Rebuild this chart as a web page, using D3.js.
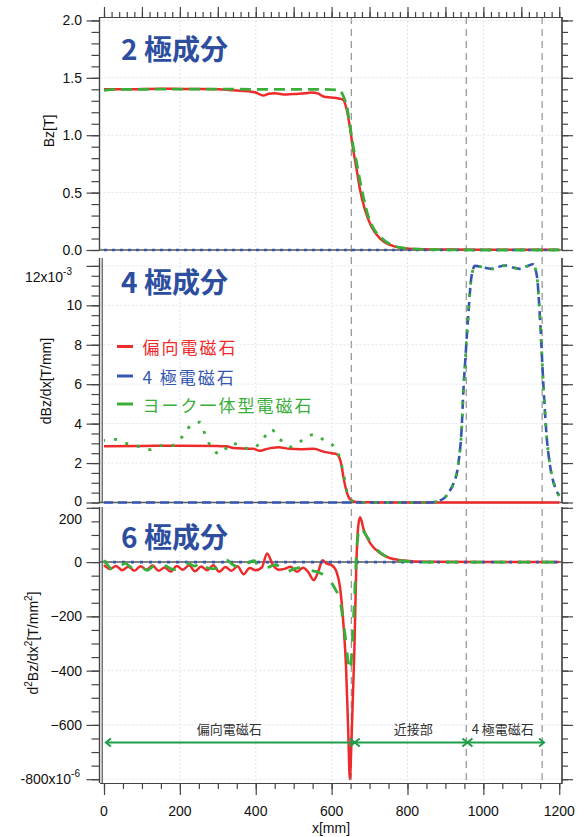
<!DOCTYPE html>
<html><head><meta charset="utf-8">
<script src="https://cdn.jsdelivr.net/npm/d3@7"></script>
<style>body{margin:0;background:#fff}</style>
</head><body><svg id="c" width="585" height="837"></svg>
<script>
// ---------------- DATA ----------------
const xTickLabels = [0,200,400,600,800,1000,1200];
const boundaryX = [652, 955, 1155];
const seriesNames = ["偏向電磁石", "4 極電磁石", "ヨーク一体型電磁石"];
const panelTitles = ["2 極成分", "4 極成分", "6 極成分"];
const yTitles = ["Bz[T]", "dBz/dx[T/mm]", "d2Bz/dx2[T/mm2]"];
const regionNames = ["偏向電磁石", "近接部", "4 極電磁石"];
const regionStart = [5, 661, 958];
const regionEnd = [661, 958, 1160];
const regionLabelX = [330, 815, 1051];
const regionArrowY = -665;

// Panel 1: Bz [T]
const bzRedX = [0,50,100,150,200,250,300,340,380,400,420,435,450,480,508,530,547,565,578,600,622,631,640,648,657,666,675,688,705,727,754,789,842,900,1000,1100,1200];
const bzRedY = [1.400,1.400,1.402,1.405,1.403,1.402,1.400,1.392,1.382,1.372,1.345,1.362,1.365,1.355,1.360,1.365,1.372,1.362,1.337,1.328,1.318,1.307,1.220,1.075,0.872,0.700,0.523,0.349,0.203,0.102,0.044,0.015,0.006,0.004,0.003,0.003,0.003];
const bzBlueX = [0,1200];
const bzBlueY = [0,0];
const bzGreenX = [0,20,100,200,300,400,500,600,622,631,640,650,657,666,675,688,697,710,730,754,789,842,900,1000,1200];
const bzGreenY = [1.390,1.398,1.400,1.402,1.402,1.400,1.400,1.398,1.390,1.340,1.250,1.050,0.900,0.760,0.600,0.400,0.290,0.190,0.110,0.050,0.018,0.005,0.002,0.000,0.000];

// Panel 2: dBz/dx [x10^-3 T/mm]
const dqRedX = [0,100,200,300,323,341,394,411,430,459,490,517,553,578,600,613,620,626,631,637,644,652,665,700,800,1200];
const dqRedY = [2.85,2.87,2.88,2.86,2.85,2.76,2.72,2.62,2.72,2.80,2.72,2.70,2.72,2.58,2.50,2.45,2.30,1.90,1.30,0.75,0.30,0.10,0.03,0.01,0,0];
const dqBlueX = [0,860,877,899,910,921,934,943,947,953,960,969,978,995,1010,1026,1040,1061,1078,1096,1115,1131,1141,1149,1158,1167,1175,1189,1200];
const dqBlueY = [0,0,0.05,0.26,0.55,0.95,1.96,3.83,5.54,7.41,9.45,11.5,12.0,11.95,11.88,11.85,11.95,12.02,11.92,11.85,11.98,12.08,11.5,9.45,6.06,3.32,1.97,0.77,0.34];
const dqGreenX = [0,29,58,90,119,150,178,207,231,253,266,281,306,337,363,389,418,440,467,494,525,552,578,613,622,631,640,650,665,700,860,877,899,910,921,934,943,947,953,960,969,978,995,1010,1026,1040,1061,1078,1096,1115,1131,1141,1149,1158,1167,1175,1189,1200];
const dqGreenY = [3.15,3.20,3.00,2.85,2.68,2.88,2.88,3.35,3.95,4.07,3.48,2.85,2.47,3.02,2.82,2.71,3.19,3.70,3.15,2.82,3.19,3.44,3.19,2.68,2.20,1.50,0.60,0.15,0.02,0,0,0.05,0.26,0.55,0.95,1.96,3.83,5.54,7.41,9.45,11.5,12.0,11.95,11.88,11.85,11.95,12.02,11.92,11.85,11.98,12.08,11.5,9.45,6.06,3.32,1.97,0.77,0.34];

// Panel 3: d2Bz/dx2 [x10^-6 T/mm^2]
const sxRedX = [0,16,32,48,64,80,96,112,128,144,160,176,192,208,224,240,256,272,288,304,320,336,352,368,384,400,416,430,445,460,476,492,508,525,538,553,566,576,586,600,613,622,631,638,644,648,653,660,665,670,675,685,702,729,755,790,850,1000,1200];
const sxRedY = [-11,-25,-14,-30,-17,-32,-15,-28,-13,-32,-20,-35,-14,-28,-12,-34,-16,-30,-12,-36,-18,-32,-15,-45,-22,-30,-20,32,-10,-28,-25,-17,-36,-21,-36,-66,-30,7,-5,-11,-36,-91,-226,-386,-632,-800,-632,-325,-17,130,165,118,69,32,14,6,1,0,0];
const sxBlueX = [0,1200];
const sxBlueY = [0,0];
const sxGreenX = [0,12,24,40,56,72,88,104,114,130,150,170,185,200,220,240,254,270,290,306,323,340,360,385,396,408,430,450,464,481,500,520,543,560,572,590,609,622,635,646,650,653,660,666,675,688,700,721,755,790,850,1200];
const sxGreenY = [7,-15,-30,-20,-5,-20,-30,-25,-30,-15,-5,-20,-28,-15,-5,-15,1,-20,-25,-11,7,-10,-20,1,5,-17,-20,-10,-17,-36,-25,-20,-30,-35,-42,-60,-98,-141,-264,-386,-400,-337,-141,44,130,105,80,44,14,4,0,0];

// ---------------- DRAW ----------------
const RED = "#ee2b2b", BLUE = "#3557b0", GREEN = "#3aae3a", ANN = "#1f9d48", TITLE = "#2d4e9f", AX = "#444";
const NUMF = "'Liberation Sans', Arial, sans-serif";
const CJK = "'Noto Sans CJK JP', sans-serif";
const XL = 99.5, XR = 562;
const svg = d3.select("#c");
const x = d3.scaleLinear().domain([-11.86, 1207.3]).range([XL, XR]);
const zip = (a, b) => a.map((v, i) => [v, b[i]]);

const panels = [
  { top: 17, bottom: 250, y: d3.scaleLinear().domain([0, 2.03]).range([250, 17]),
    major: [0, 0.5, 1, 1.5, 2], minor: d3.range(0, 2.031, 0.1), fmt: d3.format(".1f"),
    red: zip(bzRedX, bzRedY), blue: zip(bzBlueX, bzBlueY), green: zip(bzGreenX, bzGreenY),
    gDash: "11,6", bDash: "3,5", bOff: 0, gOff: 0, titleY: 60, doubleLeft: false },
  { top: 258, bottom: 503, y: d3.scaleLinear().domain([0, 12.4]).range([502.5, 258]),
    major: [0, 2, 4, 6, 8, 10, 12], minor: d3.range(0, 12.41, 0.5), fmt: d3.format("d"),
    red: zip(dqRedX, dqRedY), blue: zip(dqBlueX, dqBlueY), green: zip(dqGreenX, dqGreenY),
    gDash: "3,9", bDash: "9,5", bOff: 0, gOff: -10, titleY: 293, doubleLeft: true },
  { top: 507, bottom: 783, y: d3.scaleLinear().domain([-814, 203]).range([783, 507]),
    major: [-800, -600, -400, -200, 0, 200], minor: d3.range(-800, 201, 50), fmt: d3.format("d"),
    red: zip(sxRedX, sxRedY), blue: zip(sxBlueX, sxBlueY), green: zip(sxGreenX, sxGreenY),
    gDash: "12,12", bDash: "3,6", bOff: 0, gOff: 0, titleY: 548, doubleLeft: true }
];

const styleAxis = sel => { sel.selectAll("path,line").attr("stroke", AX).attr("stroke-width", 1.2); sel.selectAll("text").remove(); };

// vertical boundary dashed lines (behind data)
svg.append("g").selectAll("line").data(boundaryX).join("line")
  .attr("x1", d => x(d)).attr("x2", d => x(d)).attr("y1", 17).attr("y2", 783)
  .attr("stroke", "#9a9a9a").attr("stroke-width", 1.3).attr("stroke-dasharray", "7,5");

panels.forEach((p, i) => {
  const g = svg.append("g");
  const y = p.y;
  // grid
  g.append("g").selectAll("line").data([200, 400, 600, 800, 1000]).join("line")
    .attr("x1", d => x(d)).attr("x2", d => x(d)).attr("y1", p.top).attr("y2", p.bottom)
    .attr("stroke", "#dfe4ee").attr("stroke-width", 1).attr("stroke-dasharray", "2,2");
  g.append("g").selectAll("line").data(p.major.filter(v => v !== 0)).join("line")
    .attr("x1", XL).attr("x2", XR).attr("y1", d => y(d)).attr("y2", d => y(d))
    .attr("stroke", "#dfe4ee").attr("stroke-width", 1).attr("stroke-dasharray", "2,2");

  // left axis
  const la = g.append("g").attr("transform", `translate(${XL},0)`);
  la.append("g").call(d3.axisLeft(y).tickValues(p.minor).tickSize(8).tickSizeOuter(0)).call(styleAxis);
  la.append("g").call(d3.axisLeft(y).tickValues(p.major).tickSize(13).tickSizeOuter(0)).call(styleAxis);
  la.selectAll("path.domain").attr("d", `M0,${p.top}V${p.bottom}`);
  if (p.doubleLeft) {
    g.append("line").attr("x1", XL + 2.7).attr("x2", XL + 2.7).attr("y1", p.top).attr("y2", p.bottom)
      .attr("stroke", AX).attr("stroke-width", 1.1);
  }
  // right axis
  const ra = g.append("g").attr("transform", `translate(${XR},0)`);
  ra.append("g").call(d3.axisRight(y).tickValues(p.minor).tickSize(6).tickSizeOuter(0)).call(styleAxis);
  ra.append("g").call(d3.axisRight(y).tickValues(p.major).tickSize(11).tickSizeOuter(0)).call(styleAxis);
  ra.selectAll("path.domain").attr("d", `M0,${p.top}V${p.bottom}`);

  // zero line
  g.append("line").attr("x1", XL).attr("x2", XR).attr("y1", y(0)).attr("y2", y(0))
    .attr("stroke", "#555").attr("stroke-width", 1.5);

  // tick labels
  const lab = g.append("g").attr("font-family", NUMF).attr("font-size", 14).attr("fill", "#111");
  p.major.forEach((v, k) => {
    let dy = 0, ax = 82;
    const top = k === p.major.length - 1, bottomLab = k === 0;
    if (i === 1 && top) { dy = 11; ax = 72; }
    if (i === 1 && bottomLab) { dy = -1.5; }
    if (i === 2 && top) { dy = 11; }
    if (i === 2 && bottomLab) { ax = 80; }
    const t = lab.append("text").attr("x", ax).attr("y", y(v) + dy).attr("text-anchor", "end")
      .attr("dominant-baseline", "central");
    if (i === 1 && top) {
      t.append("tspan").text("12x10");
      t.append("tspan").attr("font-size", 10).attr("dy", -6).text("-3");
    } else if (i === 2 && bottomLab) {
      t.append("tspan").text("-800x10");
      t.append("tspan").attr("font-size", 10).attr("dy", -6).text("-6");
    } else {
      t.text(p.fmt(v));
    }
  });

  // data
  const clipId = "clip" + i;
  svg.append("clipPath").attr("id", clipId).append("rect")
    .attr("x", XL).attr("y", p.top - 3).attr("width", XR - XL).attr("height", p.bottom - p.top + 6);
  const dg = g.append("g").attr("clip-path", `url(#${clipId})`);
  const line = d3.line().x(d => x(d[0])).y(d => y(d[1])).curve(d3.curveMonotoneX);
  dg.append("path").attr("d", line(p.red)).attr("fill", "none").attr("stroke", RED).attr("stroke-width", 2.5);
  dg.append("path").attr("d", line(p.blue)).attr("fill", "none").attr("stroke", BLUE).attr("stroke-width", 2.6)
    .attr("stroke-dasharray", p.bDash).attr("stroke-dashoffset", p.bOff);
  dg.append("path").attr("d", line(p.green)).attr("fill", "none").attr("stroke", GREEN).attr("stroke-width", 2.8)
    .attr("stroke-dasharray", p.gDash).attr("stroke-dashoffset", p.gOff);

  // panel title
  g.append("text").attr("x", 121).attr("y", p.titleY).attr("font-family", CJK).attr("font-weight", "bold")
    .attr("font-size", 28).attr("fill", TITLE).text(panelTitles[i]);
});

// top axis of panel 1
const ta = svg.append("g").attr("transform", `translate(0,17)`);
ta.append("g").call(d3.axisTop(x).tickValues(d3.range(0, 1201, 20)).tickSize(5).tickSizeOuter(0)).call(styleAxis);
ta.append("g").call(d3.axisTop(x).tickValues(d3.range(0, 1201, 100)).tickSize(10).tickSizeOuter(0)).call(styleAxis);

// bottom axis of panel 3
const ba = svg.append("g").attr("transform", `translate(0,783)`);
ba.append("g").call(d3.axisBottom(x).tickValues(d3.range(0, 1201, 50)).tickSize(6).tickSizeOuter(0)).call(styleAxis);
ba.append("g").call(d3.axisBottom(x).tickValues(xTickLabels).tickSize(12).tickSizeOuter(0)).call(styleAxis);
svg.append("g").attr("font-family", NUMF).attr("font-size", 14).attr("fill", "#111")
  .selectAll("text").data(xTickLabels).join("text")
  .attr("x", d => x(d)).attr("y", 816).attr("text-anchor", "middle").text(d => d);
svg.append("text").attr("x", 331).attr("y", 833).attr("text-anchor", "middle")
  .attr("font-family", NUMF).attr("font-size", 14).attr("fill", "#111").text("x[mm]");

// y-axis titles
const yt = svg.append("g").attr("font-family", NUMF).attr("font-size", 14).attr("fill", "#111");
yt.append("text").attr("transform", "translate(54,131) rotate(-90)").attr("text-anchor", "middle").text(yTitles[0]);
yt.append("text").attr("transform", "translate(51,381) rotate(-90)").attr("text-anchor", "middle").text(yTitles[1]);
const t3 = yt.append("text").attr("transform", "translate(38,643) rotate(-90)").attr("text-anchor", "middle");
t3.append("tspan").text("d");
t3.append("tspan").attr("font-size", 10).attr("dy", -6).text("2");
t3.append("tspan").attr("dy", 6).text("Bz/dx");
t3.append("tspan").attr("font-size", 10).attr("dy", -6).text("2");
t3.append("tspan").attr("dy", 6).text("[T/mm");
t3.append("tspan").attr("font-size", 10).attr("dy", -6).text("2");
t3.append("tspan").attr("dy", 6).text("]");

// legend
const legColors = [RED, BLUE, GREEN];
const legY = [346.5, 376, 404];
const lg = svg.append("g");
seriesNames.forEach((n, k) => {
  lg.append("line").attr("x1", 117).attr("x2", 133).attr("y1", legY[k]).attr("y2", legY[k])
    .attr("stroke", legColors[k]).attr("stroke-width", 3);
  lg.append("text").attr("x", 142.5).attr("y", legY[k]).attr("dominant-baseline", "central")
    .attr("font-family", CJK).attr("font-size", 17).attr("letter-spacing", 2)
    .attr("fill", legColors[k]).text(n);
});

// region arrows in panel 3
const y3 = panels[2].y;
const ag = svg.append("g").attr("stroke", ANN).attr("stroke-width", 2).attr("fill", "none");
const ay = y3(regionArrowY);
regionStart.forEach((s, k) => {
  const a = x(s), b = x(regionEnd[k]);
  ag.append("line").attr("x1", a).attr("x2", b).attr("y1", ay).attr("y2", ay);
  ag.append("path").attr("d", `M${a + 5},${ay - 4}L${a},${ay}L${a + 5},${ay + 4}`);
  ag.append("path").attr("d", `M${b - 5},${ay - 4}L${b},${ay}L${b - 5},${ay + 4}`);
});
svg.append("g").attr("font-family", CJK).attr("font-size", 13).attr("fill", "#333")
  .selectAll("text").data(regionNames).join("text")
  .attr("x", (d, k) => x(regionLabelX[k])).attr("y", ay - 9).attr("text-anchor", "middle").text(d => d);
</script></body></html>
